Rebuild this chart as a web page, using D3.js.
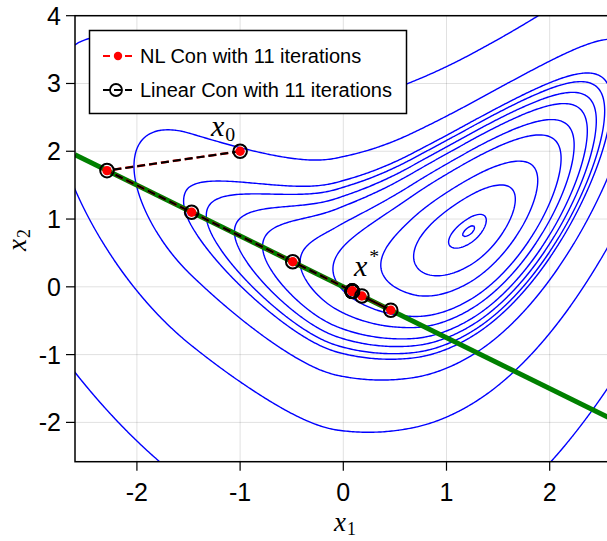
<!DOCTYPE html>
<html><head><meta charset="utf-8">
<script src="https://cdn.jsdelivr.net/npm/d3@7"></script>
<style>body{margin:0;background:#fff}svg{display:block}</style>
</head><body><svg id="c" width="607" height="541"></svg>
<script>
// ---------------- data ----------------
const xTicks = [-2, -1, 0, 1, 2];
const yTicks = [-2, -1, 0, 1, 2, 3, 4];
const xDomain = [-2.6, 2.6];
const yDomain = [-2.58, 4];

// iterates (x0 + 11 iterations)
const nlX1 = [-1.00, -2.29, -1.47, -0.49, 0.46, 0.18, 0.09, 0.087, 0.086, 0.086, 0.086, 0.086];
const nlX2 = [2.00, 1.715, 1.10, 0.37, -0.345, -0.135, -0.068, -0.065, -0.064, -0.064, -0.064, -0.064];
const linX1 = [-1.00, -2.29, -1.47, -0.49, 0.46, 0.18, 0.09, 0.087, 0.086, 0.086, 0.086, 0.086];
const linX2 = [2.00, 1.715, 1.10, 0.37, -0.345, -0.135, -0.068, -0.065, -0.064, -0.064, -0.064, -0.064];

// linear constraint 3*x1 + 4*x2 = 0, drawn across the axis
const conX1 = [-2.6, 2.6];
const conX2 = [1.95, -1.95];

// contour levels of the objective
const contourLevels = [0.004, 0.04, 0.29, 0.64, 1.15, 1.5, 1.9, 2.2, 2.5, 2.75, 3.8, 7.3, 21.5];

// objective field parameters (banana-shaped valley)
const fMinX = 1.22, gRight = 1.45, gKnee = 0.55, gSlope = 1.1, gFar = 2.7, gFarK = 1.76;
const qVx = -0.05, qV = 0.26, qRight = 0.35, qA = 0.6, qW = 0.4, qLeft2 = 0.14;
const hUp = 1.0, hUpSlope = 0.07, hDown = 1.1;

function gfun(x) {
  const u = x - fMinX;
  if (u >= 0) return gRight * u * u;
  const s = -u;
  let v = s < gKnee ? s * s : gSlope * s - gKnee * gKnee;
  if (s > gFar) v += gFarK * (s - gFar) * (s - gFar);
  return v;
}
function qfun(x) {
  if (x >= qVx) return qV + qRight * (x - qVx) * (x - qVx);
  const s = qVx - x;
  return qV + qA * (Math.sqrt(qW * qW + s * s) - qW) + qLeft2 * s * s;
}
function f(x, y) {
  const d = y - qfun(x);
  const up = hUp + hUpSlope * Math.max(0, x);
  return gfun(x) + (d > 0 ? up : hDown) * d * d;
}

// ---------------- layout ----------------
const plot = {left: 75, top: 15.7, right: 611.6, bottom: 461.7};
const svg = d3.select('#c');
const xs = d3.scaleLinear().domain(xDomain).range([plot.left, plot.right]);
const ys = d3.scaleLinear().domain(yDomain).range([plot.bottom, plot.top]);

svg.append('defs').append('clipPath').attr('id', 'clip')
  .append('rect').attr('x', plot.left).attr('y', plot.top)
  .attr('width', plot.right - plot.left).attr('height', plot.bottom - plot.top);

// grid
const grid = svg.append('g').attr('stroke', '#000').attr('stroke-opacity', 0.12).attr('stroke-width', 1);
xTicks.forEach(t => grid.append('line').attr('x1', xs(t)).attr('x2', xs(t)).attr('y1', plot.top).attr('y2', plot.bottom));
yTicks.forEach(t => grid.append('line').attr('y1', ys(t)).attr('y2', ys(t)).attr('x1', plot.left).attr('x2', plot.right));

// contours
const nx = 340, ny = 340;
const gx0 = -3.0, gx1 = 3.0, gy0 = -3.0, gy1 = 4.5;
const vals = new Float64Array(nx * ny);
for (let j = 0; j < ny; j++) {
  const y = gy0 + j * (gy1 - gy0) / (ny - 1);
  for (let i = 0; i < nx; i++) {
    const x = gx0 + i * (gx1 - gx0) / (nx - 1);
    vals[i + j * nx] = f(x, y);
  }
}
const cs = d3.contours().size([nx, ny]).thresholds(contourLevels)(vals);
const proj = d3.geoTransform({point: function(px, py) {
  const x = gx0 + (px - 0.5) * (gx1 - gx0) / (nx - 1);
  const y = gy0 + (py - 0.5) * (gy1 - gy0) / (ny - 1);
  this.stream.point(xs(x), ys(y));
}});
const gp = d3.geoPath(proj);
const pg = svg.append('g').attr('clip-path', 'url(#clip)');
pg.selectAll('path.ct').data(cs).join('path').attr('class', 'ct')
  .attr('d', gp).attr('fill', 'none').attr('stroke', '#0000ff').attr('stroke-width', 1.4);

// constraint line
const line = d3.line().x(d => xs(d[0])).y(d => ys(d[1]));
pg.append('path').attr('d', line(conX1.map((v, i) => [v, conX2[i]])))
  .attr('stroke', '#008000').attr('stroke-width', 5).attr('fill', 'none');

// iterates
const nlPts = nlX1.map((v, i) => [v, nlX2[i]]);
const linPts = linX1.map((v, i) => [v, linX2[i]]);
pg.append('path').attr('d', line(nlPts)).attr('fill', 'none').attr('stroke', '#ff0000')
  .attr('stroke-width', 2.4).attr('stroke-dasharray', '8,4');
pg.append('path').attr('d', line(linPts)).attr('fill', 'none').attr('stroke', '#000')
  .attr('stroke-width', 2.1).attr('stroke-dasharray', '8,4');
pg.selectAll('circle.nl').data(nlPts).join('circle').attr('class', 'nl')
  .attr('cx', d => xs(d[0])).attr('cy', d => ys(d[1])).attr('r', 4.7).attr('fill', '#ff0000');
pg.selectAll('circle.lin').data(linPts).join('circle').attr('class', 'lin')
  .attr('cx', d => xs(d[0])).attr('cy', d => ys(d[1])).attr('r', 6.8)
  .attr('fill', 'none').attr('stroke', '#000').attr('stroke-width', 2);

// frame
svg.append('rect').attr('x', plot.left).attr('y', plot.top)
  .attr('width', plot.right - plot.left).attr('height', plot.bottom - plot.top)
  .attr('fill', 'none').attr('stroke', '#000').attr('stroke-width', 1.5);

// ticks
const tk = svg.append('g').attr('stroke', '#000').attr('stroke-width', 1.2);
xTicks.forEach(t => tk.append('line').attr('x1', xs(t)).attr('x2', xs(t)).attr('y1', plot.bottom).attr('y2', plot.bottom + 9));
yTicks.forEach(t => tk.append('line').attr('y1', ys(t)).attr('y2', ys(t)).attr('x1', plot.left - 9).attr('x2', plot.left));
const tf = "'Liberation Sans', Arial, sans-serif";
svg.append('g').selectAll('text').data(xTicks).join('text')
  .attr('x', d => xs(d)).attr('y', plot.bottom + 39).attr('text-anchor', 'middle')
  .attr('font-family', tf).attr('font-size', 25).text(d => d);
svg.append('g').selectAll('text').data(yTicks).join('text')
  .attr('x', plot.left - 14).attr('y', d => ys(d) + 9).attr('text-anchor', 'end')
  .attr('font-family', tf).attr('font-size', 25).text(d => d);

// math labels
const mf = "'Liberation Serif', 'DejaVu Serif', serif";
function mathLabel(parent, x, y, main, sub, sup, size) {
  const fs = size || 30;
  const t = parent.append('text').attr('x', x).attr('y', y).attr('font-family', mf);
  t.append('tspan').attr('font-style', 'italic').attr('font-size', fs).text(main);
  if (sub) t.append('tspan').attr('font-size', fs * 0.66).attr('dy', fs * 0.15).attr('dx', 1).text(sub);
  if (sup) t.append('tspan').attr('font-size', fs * 0.66).attr('dy', -fs * 0.43).attr('dx', 2).text(sup);
  return t;
}
mathLabel(svg, 334, 531, 'x', '1', null, 27);
const yl = svg.append('g').attr('transform', 'translate(26,251) rotate(-90)');
mathLabel(yl, 0, 0, 'x', '2', null, 27);
mathLabel(svg, 211, 136, 'x', '0');
mathLabel(svg, 354, 276, 'x', null, '*');

// legend
const lg = svg.append('g');
lg.append('rect').attr('x', 89.5).attr('y', 30.5).attr('width', 317).attr('height', 83)
  .attr('fill', '#fff').attr('stroke', '#000').attr('stroke-width', 1.5);
const rows = [
  {y: 56, color: '#ff0000', label: 'NL Con with 11 iterations', type: 'dot'},
  {y: 90, color: '#000', label: 'Linear Con with 11 iterations', type: 'ring'}
];
rows.forEach(r => {
  lg.append('line').attr('x1', 103).attr('x2', 133).attr('y1', r.y).attr('y2', r.y)
    .attr('stroke', r.color).attr('stroke-width', 2).attr('stroke-dasharray', '7,4');
  if (r.type === 'dot') lg.append('circle').attr('cx', 118).attr('cy', r.y).attr('r', 4.2).attr('fill', r.color);
  else lg.append('circle').attr('cx', 116).attr('cy', r.y).attr('r', 6).attr('fill', 'none')
    .attr('stroke', r.color).attr('stroke-width', 1.8);
  lg.append('text').attr('x', 140).attr('y', r.y + 7).attr('font-family', tf).attr('font-size', 20).text(r.label);
});
</script></body></html>
